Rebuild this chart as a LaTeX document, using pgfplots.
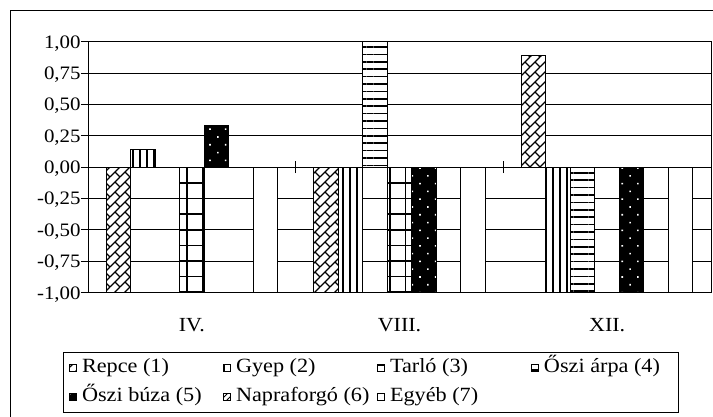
\documentclass[border=0pt]{standalone}
\usepackage{fontspec}
\setmainfont{Liberation Serif}[FakeStretch=1.1]
\usepackage{pgfplots}
\pgfplotsset{compat=1.18}
\usetikzlibrary{patterns,patterns.meta}

\pgfdeclarepattern{
  name=DiagBrick,
  type=uncolored,
  bottom left={\pgfpoint{-.1pt}{-.1pt}},
  top right={\pgfpoint{5.1pt}{5.1pt}},
  tile size={\pgfpoint{5pt}{5pt}},
  code={
    \pgfsetlinewidth{0.6pt}
    \pgfpathmoveto{\pgfpoint{0pt}{0pt}}
    \pgfpathlineto{\pgfpoint{5pt}{5pt}}
    \pgfpathmoveto{\pgfpoint{2.5pt}{2.5pt}}
    \pgfpathlineto{\pgfpoint{5pt}{0pt}}
    \pgfusepath{stroke}
  }
}

\pgfplotsset{
  sq/.style={legend image code/.code={\draw[##1,line width=0.5pt] (0pt,-1.75pt) rectangle (3.5pt,1.75pt); \path (5.5pt,0pt);}},
}

\begin{document}
\begin{tikzpicture}[x=1pt,y=1pt]
\useasboundingbox (0,0) rectangle (356.5,-208.5);
\draw[line width=0.5pt] (5,-5.5) rectangle (365,-215);
\begin{axis}[
  at={(44pt,-146.35pt)}, anchor=south west,
  scale only axis, width=311.5pt, height=125.5pt,
  xmin=-0.5, xmax=2.5, ymin=-1, ymax=1,
  ybar=0pt, bar width=12.25pt,
  xtick={0,1,2}, xticklabels={IV.,VIII.,XII.},
  ytick={-1,-0.75,-0.5,-0.25,0,0.25,0.5,0.75,1},
  yticklabels={{-1,00},{-0,75},{-0,50},{-0,25},{0,00},{0,25},{0,50},{0,75},{1,00}},
  ymajorgrids, grid style={black, line width=0.5pt},
  axis line style={black, line width=0.5pt},
  ytick pos=left, tick align=outside, major tick length=3.5pt,
  tick style={black, line width=0.5pt},
  x tick style={draw=none},
  yticklabel style={font=\fontsize{9.5}{11}\selectfont, anchor=east, inner sep=0pt, text height=6.4pt, text depth=0pt},
  xticklabel style={font=\fontsize{10}{12}\selectfont, anchor=center, inner sep=0pt, text height=6.6pt, text depth=0pt, yshift=-12.4pt},
  legend columns=4,
  legend cell align=left,
  legend style={at={(-0.0406,-0.2375)}, anchor=north west, draw=black, line width=0.5pt,
    inner xsep=2.9pt, inner ysep=2.5pt, row sep=4pt, column sep=0pt,
    font=\fontsize{10.1}{12}\selectfont,
    nodes={inner sep=0.5pt, text height=7pt, text depth=2.5pt, anchor=west}},
]
\addplot[sq, draw=black, line width=0.5pt, fill=white, postaction={pattern=DiagBrick}]
  coordinates {(0,-1) (1,-1) (2,0.89)};
\addlegendentry{\makebox[70pt][l]{Repce (1)}}
\addplot[sq, draw=black, line width=0.5pt, fill=white, postaction={pattern={Lines[angle=90,distance=3.5pt,line width=0.75pt]}}]
  coordinates {(0,0.14) (1,-1) (2,-1)};
\addlegendentry{\makebox[70pt][l]{Gyep (2)}}
\addplot[sq, draw=black, line width=0.5pt, fill=white, postaction={pattern={Lines[angle=0,distance=3.7pt,line width=0.75pt]}}]
  coordinates {(0,0) (1,1) (2,-1)};
\addlegendentry{\makebox[70pt][l]{Tarló (3)}}
\addplot[sq, draw=black, line width=0.5pt, fill=white, postaction={pattern={Hatch[angle=0,distance=7.8pt,line width=0.75pt]}}]
  coordinates {(0,-1) (1,-1) (2,0)};
\addlegendentry{\makebox[64pt][l]{Őszi árpa (4)}}
\addplot[sq, draw=black, line width=0.5pt, fill=black, postaction={pattern={Dots[angle=45,distance=5.5pt,radius=0.55pt]}, pattern color=white}]
  coordinates {(0,0.33) (1,-1) (2,-1)};
\addlegendentry{\makebox[70pt][l]{Őszi búza (5)}}
\addplot[sq, draw=black, line width=0.5pt, fill=white, postaction={pattern=north east lines}]
  coordinates {(0,0) (1,0) (2,0)};
\addlegendentry{\makebox[70pt][l]{Napraforgó (6)}}
\addplot[sq, draw=black, line width=0.5pt, fill=white]
  coordinates {(0,-1) (1,-1) (2,-1)};
\addlegendentry{\makebox[70pt][l]{Egyéb (7)}}
\draw[black, line width=0.5pt] (axis cs:0.5,0) ++(0pt,-3pt) -- ++(0pt,6pt);
\draw[black, line width=0.5pt] (axis cs:1.5,0) ++(0pt,-3pt) -- ++(0pt,6pt);
\end{axis}
\end{tikzpicture}
\end{document}
